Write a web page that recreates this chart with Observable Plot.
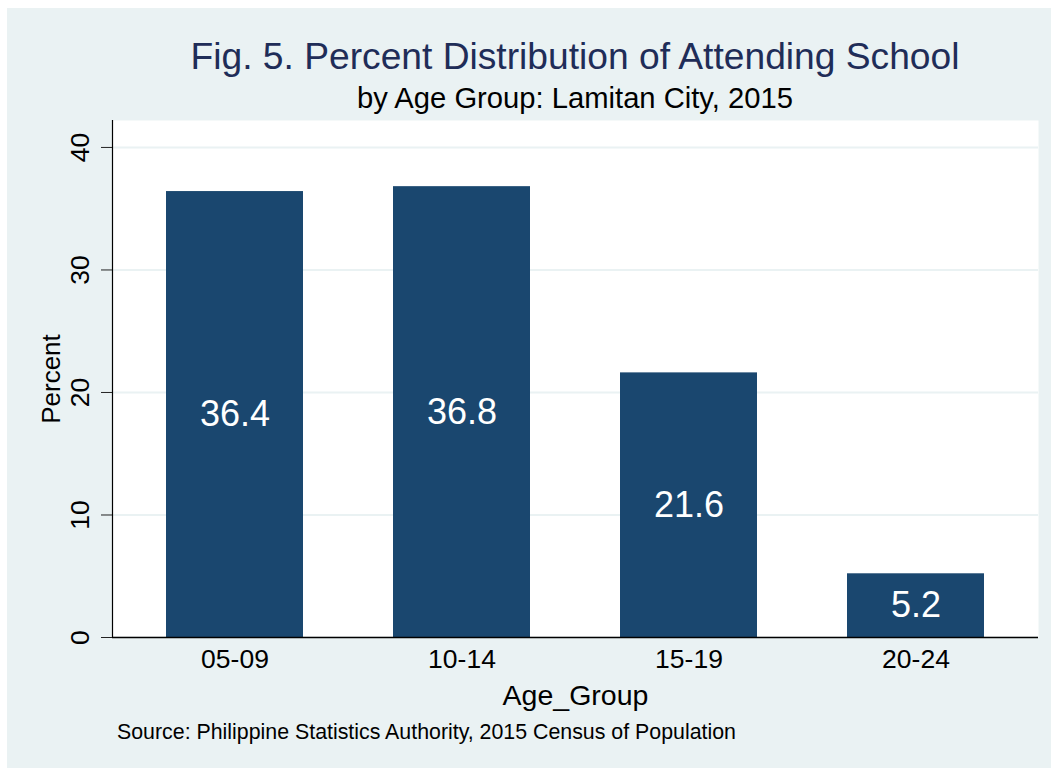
<!DOCTYPE html>
<html>
<head>
<meta charset="utf-8">
<script src="https://cdn.jsdelivr.net/npm/d3@7"></script>
<script src="https://cdn.jsdelivr.net/npm/@observablehq/plot@0.6"></script>
<style>
  html, body { margin: 0; padding: 0; background: #ffffff; }
  body { width: 1051px; height: 768px; position: relative; overflow: hidden;
         font-family: "Liberation Sans", Arial, Helvetica, sans-serif; }
  #panel { position: absolute; left: 7px; top: 8px; width: 1044px; height: 760px; background: #EAF2F3; }
  #chart { position: absolute; left: 0; top: 0; }
  .t { position: absolute; line-height: 1; white-space: nowrap; }
  #title { left: 112px; width: 926px; text-align: center; top: 37.5px; font-size: 37.2px; color: #1f2d58; }
  #subtitle { left: 112px; width: 926px; text-align: center; top: 83.5px; font-size: 29.2px; color: #000; }
  #caption { left: 117px; top: 722px; font-size: 21.35px; color: #000; }
</style>
</head>
<body>
<div id="panel"></div>
<div id="chart"></div>
<div class="t" id="title">Fig. 5. Percent Distribution of Attending School</div>
<div class="t" id="subtitle">by Age Group: Lamitan City, 2015</div>
<div class="t" id="caption">Source: Philippine Statistics Authority, 2015 Census of Population</div>
<script>
const ageGroups = ["05-09", "10-14", "15-19", "20-24"];
const percents = [36.4, 36.8, 21.6, 5.2];
const yTicks = [0, 10, 20, 30, 40];
const xTitle = "Age_Group";
const yTitle = "Percent";

const data = ageGroups.map((g, i) => ({group: g, pct: percents[i]}));

const font = '"Liberation Sans", Arial, Helvetica, sans-serif';
const navy = "#1A476F";
const bg = "#EAF2F3";

const chart = Plot.plot({
  width: 1051,
  height: 768,
  marginTop: 120,
  marginBottom: 131,
  marginLeft: 112,
  marginRight: 13,
  style: {background: "transparent", fontFamily: font, fontSize: "26.5px", color: "#000"},
  x: {domain: ageGroups, paddingInner: 0.396, paddingOuter: 0.232, label: null},
  y: {domain: [0, 42.2], label: null},
  marks: [
    Plot.frame({fill: "white", stroke: "none"}),
    Plot.gridY(yTicks, {stroke: bg, strokeOpacity: 1, strokeWidth: 2}),
    Plot.barY(data, {x: "group", y: "pct", fill: navy}),
    Plot.text(data, {x: "group", y: d => d.pct / 2, text: d => d.pct.toFixed(1), fill: "white", fontSize: 36}),
    Plot.ruleY([0], {stroke: "#000", strokeWidth: 1.5}),
    Plot.frame({anchor: "left", stroke: "#000", strokeWidth: 1.2}),
    Plot.axisY(yTicks, {tickSize: 11, tickFormat: () => "", stroke: "#222", label: null}),
    Plot.text(yTicks, {y: d => d, text: d => String(d), frameAnchor: "left", rotate: -90, textAnchor: "middle", dx: -32, fontSize: 26.5, fill: "#000"}),
    Plot.axisX({tickSize: 0, tickPadding: 12, fontSize: 26.5, label: null, fill: "#000"}),
    Plot.text([yTitle], {frameAnchor: "left", rotate: -90, textAnchor: "middle", dx: -61, fontSize: 26, fill: "#000"}),
    Plot.text([xTitle], {frameAnchor: "bottom", textAnchor: "middle", dy: 67, fontSize: 28.5, fill: "#000"})
  ]
});
document.getElementById("chart").appendChild(chart);
</script>
</body>
</html>
